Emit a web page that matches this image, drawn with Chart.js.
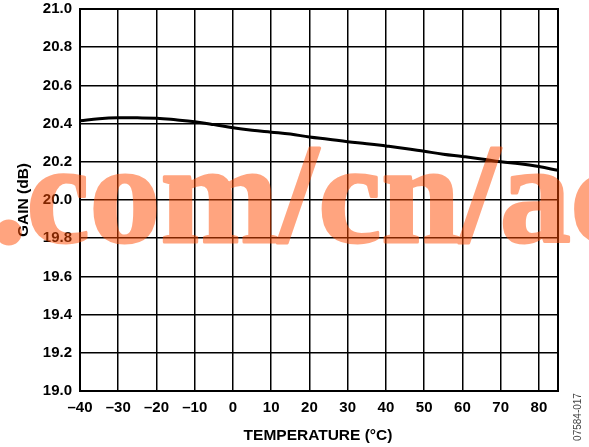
<!DOCTYPE html>
<html>
<head>
<meta charset="utf-8">
<script src="https://cdn.jsdelivr.net/npm/chart.js@4"></script>
<style>
html,body{margin:0;padding:0;background:#fff;}
canvas{display:block;}
</style>
</head>
<body>
<canvas id="c" width="589" height="447"></canvas>
<script>
const temperatures = [-40,-35,-30,-25,-20,-15,-10,-5,0,5,10,15,20,25,30,35,40,45,50,55,60,65,70,75,80,85];
const gainDb = [20.415,20.425,20.43,20.43,20.428,20.42,20.41,20.395,20.378,20.365,20.355,20.345,20.33,20.318,20.305,20.295,20.283,20.27,20.255,20.24,20.228,20.215,20.2,20.19,20.175,20.155];
const xTitle = 'TEMPERATURE (°C)';
const yTitle = 'GAIN (dB)';
const figureId = '07584-017';
const watermark = '.com/cn/ac';

const FONT = '"Liberation Sans", Arial, sans-serif';

const overlay = {
  id: 'overlay',
  beforeDatasetsDraw(chart) {
    const {ctx, chartArea: a} = chart;
    ctx.save();
    ctx.strokeStyle = '#000';
    ctx.lineWidth = 2;
    ctx.strokeRect(a.left, a.top, a.right - a.left, a.bottom - a.top);
    ctx.restore();
  },
  afterDraw(chart) {
    const {ctx} = chart;
    ctx.save();
    ctx.fillStyle = '#000';
    ctx.font = 'bold 15.5px ' + FONT;
    ctx.textAlign = 'center';
    ctx.textBaseline = 'middle';
    ctx.fillText(xTitle, 318, 436);
    ctx.save();
    ctx.translate(24, 200);
    ctx.rotate(-Math.PI / 2);
    ctx.fillText(yTitle, 0, 0);
    ctx.restore();
    ctx.save();
    ctx.fillStyle = '#444';
    ctx.font = '10px ' + FONT;
    ctx.translate(578, 417);
    ctx.rotate(-Math.PI / 2);
    ctx.fillText(figureId, 0, 0);
    ctx.restore();
    // watermark: drawn opaque offscreen, then composited semi-transparent
    const off = document.createElement('canvas');
    off.width = chart.width; off.height = chart.height;
    const o = off.getContext('2d');
    o.font = 'bold 142px "Liberation Serif", "Times New Roman", serif';
    o.textBaseline = 'alphabetic';
    o.fillStyle = 'rgb(255,75,0)';
    o.strokeStyle = 'rgb(255,75,0)';
    o.lineWidth = 3;
    o.lineJoin = 'round';
    o.fillText(watermark, -9, 242);
    o.strokeText(watermark, -9, 242);
    ctx.globalAlpha = 0.5;
    ctx.drawImage(off, 0, 0);
    ctx.restore();
  }
};

new Chart(document.getElementById('c'), {
  type: 'line',
  data: {
    datasets: [{
      data: temperatures.map((t, i) => ({x: t, y: gainDb[i]})),
      borderColor: '#000',
      borderWidth: 3,
      pointRadius: 0,
      tension: 0.4,
      fill: false
    }]
  },
  options: {
    responsive: false,
    animation: false,
    events: [],
    layout: {padding: {top: 9, right: 31, left: 0, bottom: 0}},
    plugins: {legend: {display: false}, tooltip: {enabled: false}},
    scales: {
      x: {
        type: 'linear',
        min: -40, max: 85,
        afterFit: s => { s.height = 56; s.paddingLeft = 0; s.paddingRight = 0; },
        ticks: {
          stepSize: 10,
          includeBounds: false,
          autoSkip: false,
          maxRotation: 0,
          padding: 8,
          color: '#000',
          font: {family: FONT, size: 15, weight: 'bold'},
          callback: v => v < 0 ? '\u2013' + Math.abs(v) : String(v)
        },
        grid: {color: '#000', lineWidth: 1.5, drawTicks: false},
        border: {display: true, color: '#000', width: 2}
      },
      y: {
        min: 19, max: 21,
        afterFit: s => { s.width = 80; s.paddingTop = 0; s.paddingBottom = 0; },
        ticks: {
          stepSize: 0.2,
          autoSkip: false,
          padding: 8,
          color: '#000',
          font: {family: FONT, size: 15, weight: 'bold'},
          callback: v => Number(v).toFixed(1)
        },
        grid: {color: '#000', lineWidth: 1.5, drawTicks: false},
        border: {display: true, color: '#000', width: 2}
      }
    }
  },
  plugins: [overlay]
});
</script>
</body>
</html>
